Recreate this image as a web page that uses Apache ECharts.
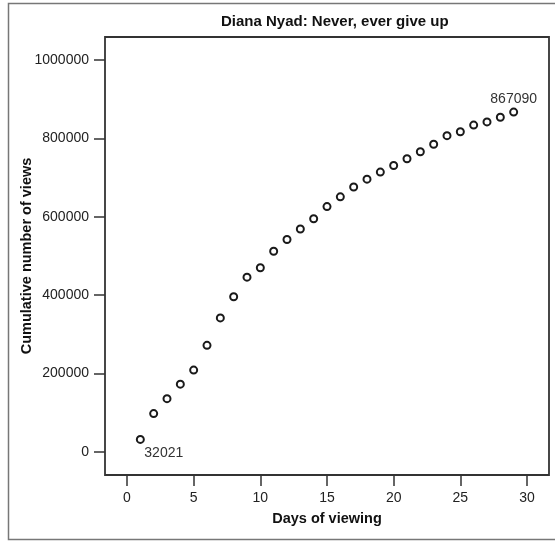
<!DOCTYPE html>
<html>
<head>
<meta charset="utf-8">
<title>Diana Nyad: Never, ever give up</title>
<script src="https://cdn.jsdelivr.net/npm/echarts@6/dist/echarts.min.js"></script>
<style>
  html, body { margin: 0; padding: 0; background: #fff; }
  #chart { width: 555px; height: 542px; }
</style>
</head>
<body>
<div id="chart"></div>
<script>
// Days since the video went online
const days = [1, 2, 3, 4, 5, 6, 7, 8, 9, 10, 11, 12, 13, 14, 15, 16, 17, 18, 19, 20,
              21, 22, 23, 24, 25, 26, 27, 28, 29];
// Cumulative number of views at the end of each day
const views = [32021, 98000, 136000, 173000, 209000, 272000, 342000, 396000, 446000, 470000,
               512000, 542000, 569000, 595000, 626000, 651000, 676000, 696000, 714000, 731000,
               748000, 766000, 785000, 807000, 817000, 834000, 842000, 854000, 867090];
// Axis tick values
const xTicks = [0, 5, 10, 15, 20, 25, 30];
const yTicks = [0, 200000, 400000, 600000, 800000, 1000000];

const FONT = 'Arial, "Liberation Sans", sans-serif';
const INK = '#222';

// First and last points carry their value as a label
const points = days.map((d, i) => {
  const item = { value: [d, views[i]] };
  if (i === 0) {
    item.label = { show: true, position: 'bottom', align: 'left', distance: 2, offset: [4, 0] };
  } else if (i === days.length - 1) {
    item.label = { show: true, position: 'top', distance: 1 };
  }
  return item;
});

const chart = echarts.init(document.getElementById('chart'), null, { renderer: 'canvas' });

chart.setOption({
  animation: false,
  backgroundColor: '#fff',
  title: {
    text: 'Diana Nyad: Never, ever give up',
    left: 221,
    top: 14,
    padding: 0,
    textStyle: { fontFamily: FONT, fontSize: 15, fontWeight: 'bold', color: '#111' }
  },
  graphic: [{
    type: 'rect',
    shape: { x: 8.5, y: 3.5, width: 560, height: 536 },
    style: { fill: 'none', stroke: '#777', lineWidth: 1.5 },
    silent: true,
    z: -10
  }],
  grid: {
    left: 105, top: 37, right: 6, bottom: 67,
    show: true,
    borderColor: '#333',
    borderWidth: 1.8,
    backgroundColor: '#fff'
  },
  xAxis: {
    type: 'value',
    min: -1.65,
    max: 31.65,
    name: 'Days of viewing',
    nameLocation: 'middle',
    nameGap: 36,
    nameMoveOverlap: false,
    nameTextStyle: { fontFamily: FONT, fontSize: 14.5, fontWeight: 'bold', color: '#111' },
    axisLine: { show: false, onZero: false },
    splitLine: { show: false },
    axisTick: {
      show: true, length: 11, inside: false,
      customValues: xTicks,
      lineStyle: { color: '#333', width: 1.5 }
    },
    axisLabel: {
      customValues: xTicks,
      margin: 16,
      formatter: (v) => String(v),
      fontFamily: FONT, fontSize: 14, color: INK
    }
  },
  yAxis: {
    type: 'value',
    min: -58700,
    max: 1058700,
    name: 'Cumulative number of views',
    nameLocation: 'middle',
    nameGap: 71,
    nameRotate: 90,
    nameMoveOverlap: false,
    nameTextStyle: { fontFamily: FONT, fontSize: 14.5, fontWeight: 'bold', color: '#111' },
    axisLine: { show: false, onZero: false },
    splitLine: { show: false },
    axisTick: {
      show: true, length: 11, inside: false,
      customValues: yTicks,
      lineStyle: { color: '#333', width: 1.5 }
    },
    axisLabel: {
      customValues: yTicks,
      margin: 16,
      formatter: (v) => String(v),
      fontFamily: FONT, fontSize: 14, color: INK
    }
  },
  series: [{
    type: 'scatter',
    data: points,
    symbol: 'circle',
    symbolSize: 7,
    itemStyle: { color: '#fff', borderColor: '#1a1a1a', borderWidth: 2, opacity: 1 },
    label: {
      show: false,
      formatter: (p) => String(p.value[1]),
      fontFamily: FONT, fontSize: 14, color: '#333'
    },
    emphasis: { disabled: true }
  }]
});
</script>
</body>
</html>
